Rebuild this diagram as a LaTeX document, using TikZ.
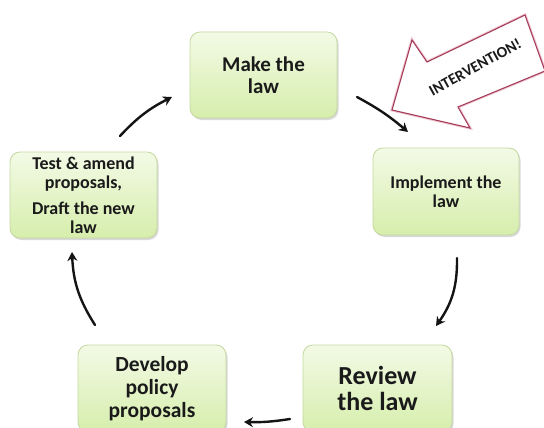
\documentclass[tikz,border=0pt]{standalone}
\usepackage{fontspec}
\setmainfont{Carlito}
\usetikzlibrary{arrows.meta,shadows}
\definecolor{boxtop}{RGB}{243,250,230}
\definecolor{boxbot}{RGB}{214,238,172}
\definecolor{boxline}{RGB}{196,216,160}
\definecolor{intline}{RGB}{165,60,90}
\definecolor{intglow}{RGB}{240,200,210}
\definecolor{txt}{RGB}{26,26,26}
\tikzset{
  box/.style={rounded corners=10pt, draw=boxline, line width=0.8pt,
    top color=boxtop, bottom color=boxbot, text=txt, align=center,
    inner sep=2pt,
    drop shadow={shadow xshift=1.5pt, shadow yshift=-2pt, opacity=0.15, fill=black}},
  cyc/.style={line width=2.4pt, draw=black!92, line cap=round,
    -{Stealth[length=9pt,width=10pt,inset=3pt]}},
}
\begin{document}
\begin{tikzpicture}[x=1pt,y=-1pt]
\useasboundingbox (0,0) rectangle (544,428);
\clip (0,0) rectangle (544,428);
\fill[white] (0,0) rectangle (544,428);

% boxes
\node[box, minimum width=147pt, minimum height=86pt,
  font=\fontsize{21}{22}\selectfont\bfseries] (make) at (263.5,75) {Make the\\law};
\node[box, minimum width=146pt, minimum height=87pt,
  font=\fontsize{18}{19}\selectfont\bfseries] (impl) at (446,191.5) {Implement the\\law};
\node[box, minimum width=149pt, minimum height=87pt,
  font=\fontsize{26}{26}\selectfont\bfseries] (review) at (377.5,388.5) {Review\\the law};
\node[box, minimum width=148pt, minimum height=87pt,
  font=\fontsize{21.5}{23}\selectfont\bfseries] (develop) at (152,388.5) {Develop\\policy\\proposals};
\node[box, minimum width=147pt, minimum height=86pt,
  font=\fontsize{18}{19}\selectfont\bfseries] (test) at (83.5,195) {Test \& amend\\proposals,\\[7pt]Draft the new\\law};

% intervention arrow
\draw[intglow, line width=3pt, line join=miter]
  (392,110) -- (412,40) -- (427,62) -- (525,15) -- (545,71) -- (458,107) -- (470,128) -- cycle;
\draw[intline, line width=1.1pt, fill=white, line join=miter]
  (392,110) -- (412,40) -- (427,62) -- (525,15) -- (545,71) -- (458,107) -- (470,128) -- cycle;
\node[rotate=29, font=\fontsize{15.5}{15.5}\selectfont\bfseries, text=txt, inner sep=0pt] (interv) at (475,67) {INTERVENTION!};

% cycle connectors
\coordinate (a1s) at (120,136); \coordinate (a1e) at (172,97);
\coordinate (a2s) at (357,97);  \coordinate (a2e) at (408,132);
\coordinate (a3s) at (457,258); \coordinate (a3e) at (436,326);
\coordinate (a4s) at (290,419); \coordinate (a4e) at (244,422);
\coordinate (a5s) at (95,325);  \coordinate (a5e) at (72,252);
\draw[cyc] (a1s) to[bend left=10] (a1e);
\draw[cyc] (a2s) to[bend left=6] (a2e);
\draw[cyc] (a3s) to[bend left=18] (a3e);
\draw[cyc] (a4s) to[bend left=5] (a4e);
\draw[cyc] (a5s) to[bend left=15] (a5e);
\end{tikzpicture}
\end{document}
